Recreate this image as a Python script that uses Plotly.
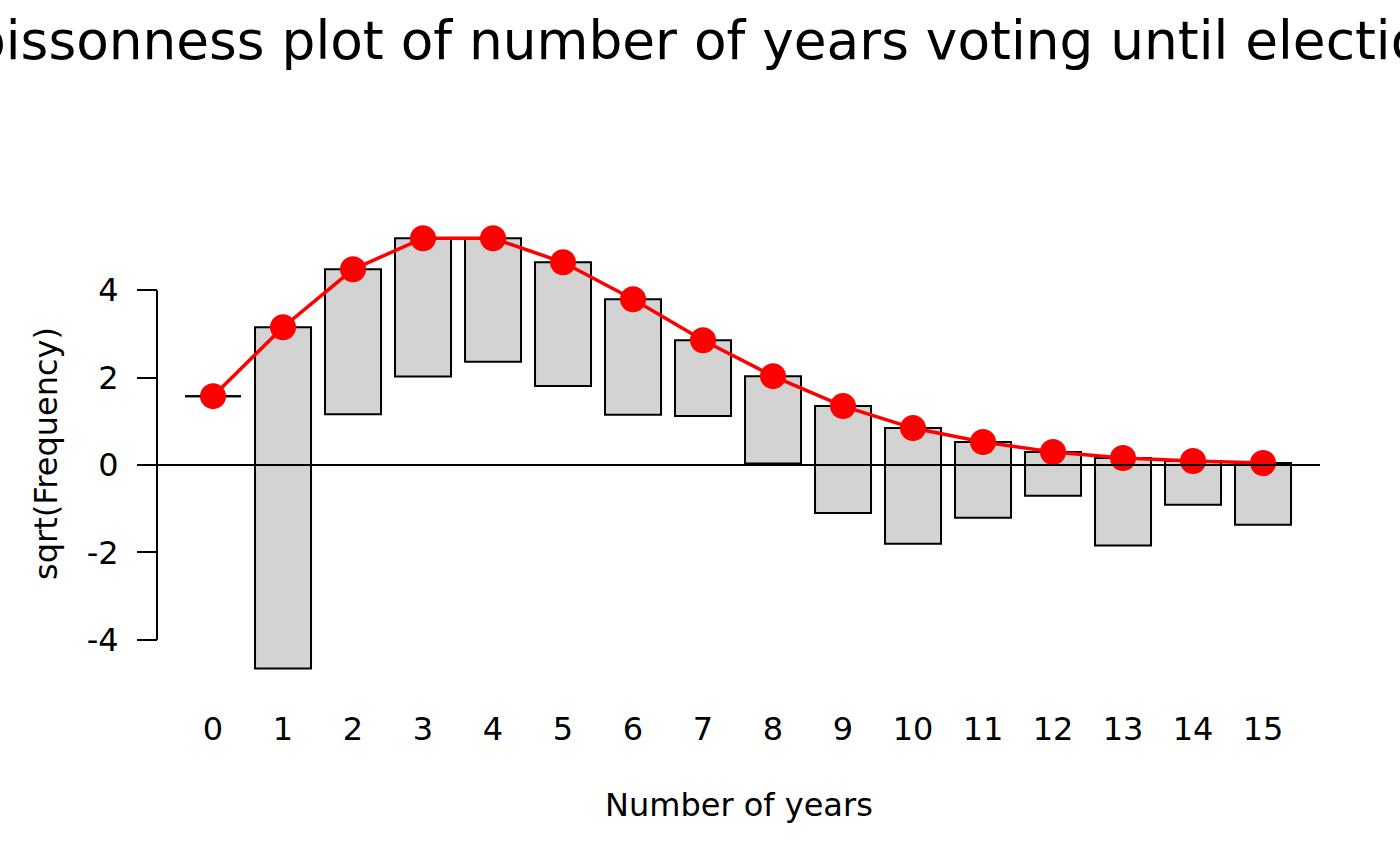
import plotly.graph_objects as go

# Data (hanging rootogram)
years = list(range(16))
observed = [0, 61, 11, 10, 8, 8, 7, 3, 4, 6, 7, 3, 1, 4, 1, 2]
fitted_sqrt = [1.577, 3.154, 4.48, 5.19, 5.19, 4.64, 3.794, 2.857, 2.034,
               1.349, 0.846, 0.526, 0.297, 0.16, 0.091, 0.046]
y_tickvals = [-4, -2, 0, 2, 4]
y_ticktext = ["-4", "-2", "0", "2", "4"]
x_ticktext = [str(v) for v in years]

obs_sqrt = [o ** 0.5 for o in observed]
bases = [f - s for f, s in zip(fitted_sqrt, obs_sqrt)]

FONT = "DejaVu Sans"
bar_w = 0.8
FS = 32

fig = go.Figure()
fig.add_trace(go.Bar(
    x=years, y=obs_sqrt, base=bases, width=bar_w,
    marker=dict(color="#D3D3D3", line=dict(color="black", width=2)),
    showlegend=False, hoverinfo="skip",
))

# zero-height bars (observed == 0) drawn as flat segments
zx, zy = [], []
for x, o, f in zip(years, observed, fitted_sqrt):
    if o == 0:
        zx += [x - bar_w / 2, x + bar_w / 2, None]
        zy += [f, f, None]
fig.add_trace(go.Scatter(x=zx, y=zy, mode="lines",
                         line=dict(color="black", width=2),
                         showlegend=False, hoverinfo="skip"))

fig.add_trace(go.Scatter(
    x=years, y=fitted_sqrt, mode="lines+markers",
    line=dict(color="#FF0000", width=3.5),
    marker=dict(color="#FF0000", size=26),
    showlegend=False,
))

W, H = 1400, 866
L, R, T, B = 137, 80, 221, 179
plot_w = W - L - R
plot_h = H - T - B
yaxis_pos = (157 - L) / plot_w

fig.update_layout(
    width=W, height=H,
    margin=dict(l=L, r=R, t=T, b=B, autoexpand=False),
    paper_bgcolor="white", plot_bgcolor="white",
    font=dict(family=FONT, size=FS, color="black"),
    title=dict(text="Poissonness plot of number of years voting until election",
               x=0.5, xref="container", xanchor="center",
               y=1 - 40 / H, yref="container", yanchor="middle",
               font=dict(size=53.3, family=FONT, color="black")),
    xaxis=dict(range=[-1.086, 15.814], tickvals=years, ticktext=x_ticktext,
               showgrid=False, zeroline=False, showline=False, ticks="",
               ticklabelstandoff=20, tickfont=dict(size=FS)),
    yaxis=dict(range=[-5.08, 5.585], tickvals=y_tickvals, ticktext=y_ticktext,
               showgrid=False, zeroline=False, showline=False,
               anchor="free", position=yaxis_pos,
               ticks="outside", ticklen=20, tickwidth=2, tickcolor="black",
               ticklabelstandoff=12, tickfont=dict(size=FS)),
    shapes=[
        dict(type="line", xref="paper", x0=0, x1=1, yref="y", y0=0, y1=0,
             line=dict(color="black", width=2), layer="above"),
        dict(type="line", xref="paper", x0=yaxis_pos, x1=yaxis_pos, yref="y",
             y0=y_tickvals[0], y1=y_tickvals[-1],
             line=dict(color="black", width=2)),
    ],
    annotations=[
        dict(text="Number of years", xref="paper", x=(739 - L) / plot_w, yref="paper",
             y=-(805 - (H - B)) / plot_h, xanchor="center", yanchor="middle",
             showarrow=False, font=dict(size=FS, family=FONT, color="black")),
        dict(text="sqrt(Frequency)", xref="paper", x=-(L - 46) / plot_w,
             yref="paper", y=0.5, xanchor="center", yanchor="middle", textangle=-90,
             showarrow=False, font=dict(size=FS, family=FONT, color="black")),
    ],
)

fig.write_html("out.html", config={"displayModeBar": False},
               post_script="document.body.style.margin='0';document.body.style.overflow='hidden';")
